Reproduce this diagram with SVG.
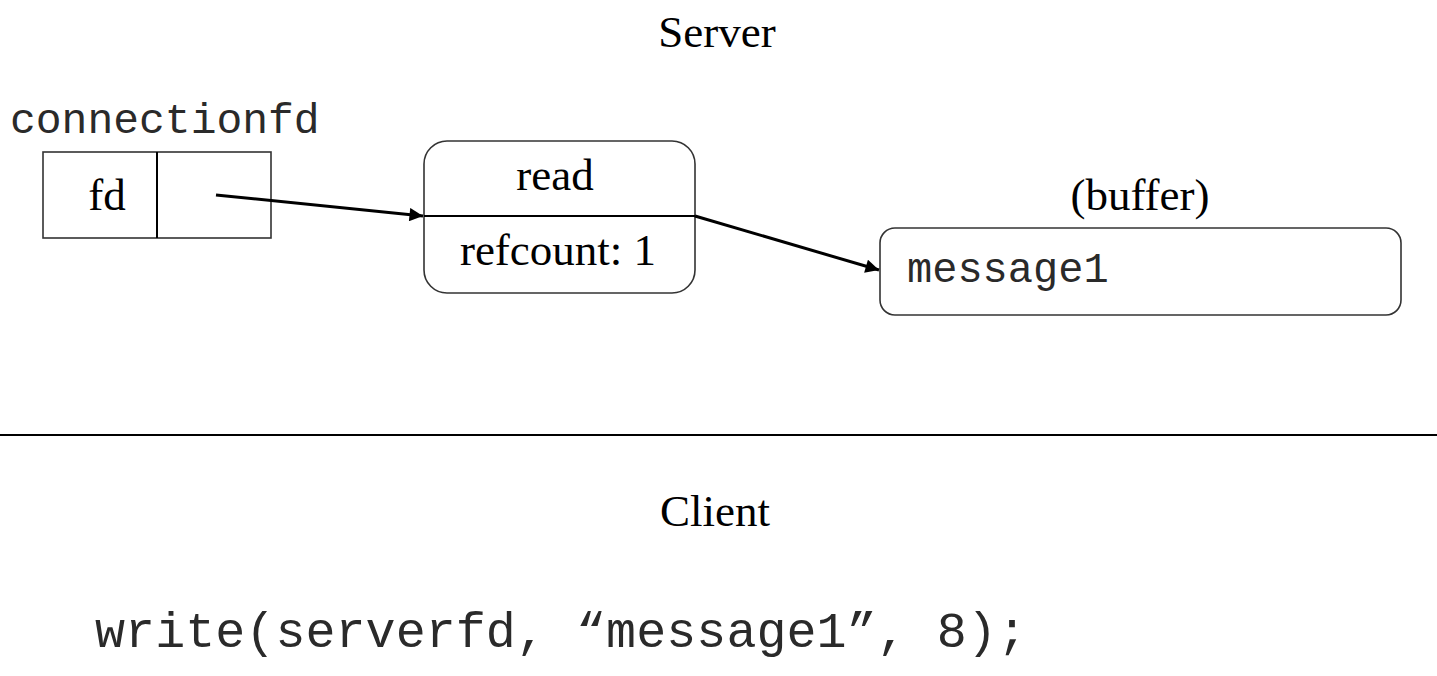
<svg xmlns="http://www.w3.org/2000/svg" width="1437" height="676" viewBox="0 0 1437 676">
<style>
.serif{font-family:"Liberation Serif","Times New Roman",serif;font-size:45px;fill:#000}
.mono{font-family:"Liberation Mono","Courier New",monospace;fill:#2a2a2a}
.box{fill:#fff;stroke:#333;stroke-width:1.6}
.conn{stroke:#000;stroke-width:3;fill:none}
</style>
<defs>
<marker id="ah" viewBox="0 0 10 10" refX="10" refY="5" markerWidth="5" markerHeight="4.5" orient="auto" markerUnits="strokeWidth">
<path d="M0,0 L10,5 L0,10 z" fill="#000"/>
</marker>
</defs>
<rect width="1437" height="676" fill="#fff"/>
<text class="serif" x="717" y="47" text-anchor="middle">Server</text>
<g id="connectionfd">
<text class="mono" x="10" y="133" font-size="43">connectionfd</text>
<rect class="box" x="43" y="152" width="228" height="86"/>
<line x1="157" y1="152" x2="157" y2="238" stroke="#000" stroke-width="2"/>
<text class="serif" x="107" y="210" text-anchor="middle">fd</text>
</g>
<g id="read">
<rect class="box" x="424" y="141" width="271" height="152" rx="23" ry="23"/>
<line x1="424" y1="216" x2="695" y2="216" stroke="#000" stroke-width="2"/>
<text class="serif" x="555" y="190" text-anchor="middle">read</text>
<text class="serif" x="558" y="265" text-anchor="middle">refcount: 1</text>
</g>
<g id="buffer">
<text class="serif" x="1140" y="210" text-anchor="middle">(buffer)</text>
<rect class="box" x="880" y="228" width="521" height="87" rx="15" ry="15"/>
<text class="mono" x="907" y="282" font-size="42">message1</text>
</g>
<g id="connectors">
<line class="conn" x1="216" y1="195" x2="423" y2="216" marker-end="url(#ah)"/>
<line class="conn" x1="695" y1="216" x2="879" y2="270" marker-end="url(#ah)"/>
</g>
<line x1="0" y1="435" x2="1437" y2="435" stroke="#000" stroke-width="2"/>
<text class="serif" x="715" y="526" text-anchor="middle">Client</text>
<text class="mono" x="95" y="647" font-size="50" textLength="932">write(serverfd, “message1”, 8);</text>
</svg>
